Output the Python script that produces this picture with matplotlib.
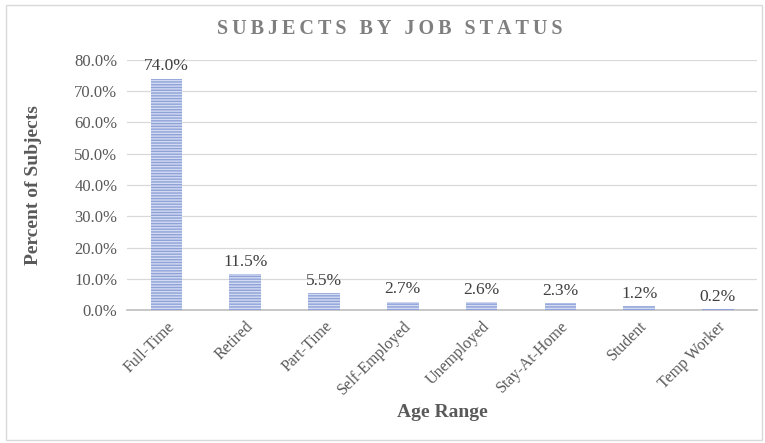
import matplotlib.pyplot as plt
from matplotlib.patches import Rectangle
from matplotlib.ticker import FuncFormatter, MultipleLocator

# job status shares (percent of subjects)
statuses = ["Full-Time", "Retired", "Part-Time", "Self-Employed",
            "Unemployed", "Stay-At-Home", "Student", "Temp Worker"]
percents = [74.0, 11.5, 5.5, 2.7, 2.6, 2.3, 1.2, 0.2]

SERIF = ["Liberation Serif", "DejaVu Serif"]
plt.rcParams["hatch.linewidth"] = 1.0

fig = plt.figure(figsize=(7.65, 4.43), dpi=100)
ax = fig.add_axes([0.166, 0.300, 0.824, 0.565])

x = range(len(statuses))
bars = ax.bar(x, percents, width=0.4, color="#d3dbf3", edgecolor="#8fa2d8",
              linewidth=0, hatch="------", zorder=3)

# value labels above bars
for xi, v in zip(x, percents):
    ax.annotate(f"{v:.1f}%", (xi, v), xytext=(0, 3), textcoords="offset points",
                ha="center", va="bottom", fontsize=12.5, color="#404040",
                family=SERIF)

ax.set_ylim(0, 80)
ax.set_xlim(-0.5, len(statuses) - 0.5)
ax.yaxis.set_major_locator(MultipleLocator(10))
ax.yaxis.set_major_formatter(FuncFormatter(lambda v, p: f"{v:.1f}%"))
ax.grid(axis="y", color="#d9d9d9", linewidth=0.9, zorder=0)
ax.set_axisbelow(True)

for s in ["top", "right", "left"]:
    ax.spines[s].set_visible(False)
ax.spines["bottom"].set_color("#bfbfbf")
ax.spines["bottom"].set_linewidth(1.2)
ax.tick_params(length=0)
ax.tick_params(axis="y", pad=7)
ax.tick_params(axis="x", pad=6)

ax.set_xticks(list(x))
ax.set_xticklabels(statuses, rotation=45, ha="right", rotation_mode="anchor",
                   fontsize=11.5, color="#595959", family=SERIF)
for lbl in ax.get_yticklabels():
    lbl.set_fontsize(12)
    lbl.set_color("#595959")
    lbl.set_family(SERIF)

ax.set_xlabel("Age Range", fontsize=14, fontweight="bold", color="#595959",
              family=SERIF, labelpad=4)
ax.set_ylabel("Percent of Subjects", fontsize=14, fontweight="bold",
              color="#595959", family=SERIF, labelpad=23)

title = "\u2009".join("SUBJECTS BY JOB STATUS")
fig.text(0.509, 0.935, title, ha="center", va="center", fontsize=14.5,
         fontweight="bold", color="#7f7f7f", family=SERIF)

# outer chart border
fig.patches.append(Rectangle((0.008, 0.006), 0.988, 0.983, transform=fig.transFigure,
                             fill=False, edgecolor="#d9d9d9", linewidth=1))

fig.savefig("out.png", dpi=100)
